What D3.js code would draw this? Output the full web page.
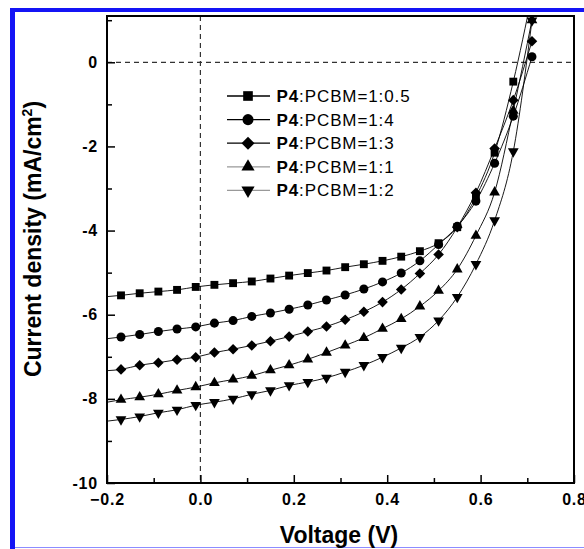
<!DOCTYPE html>
<html>
<head>
<meta charset="utf-8">
<script src="https://cdn.jsdelivr.net/npm/d3@7"></script>
<style>
  body { margin: 0; background: #fff; }
  text { font-family: Arial, "Liberation Sans", sans-serif; }
</style>
</head>
<body>
<svg id="chart" width="584" height="549"></svg>
<script>
// J-V data (V in volts, J in mA/cm2)
var voltage = [-0.17, -0.13, -0.09, -0.05, -0.01, 0.03, 0.07, 0.11, 0.15, 0.19, 0.23, 0.27,
               0.31, 0.35, 0.39, 0.43, 0.47, 0.51, 0.55, 0.59, 0.63, 0.67, 0.71];
var ratios = ["1:0.5", "1:4", "1:3", "1:1", "1:2"];
var jRatio05 = [-5.54, -5.49, -5.45, -5.41, -5.34, -5.29, -5.25, -5.21, -5.14, -5.07, -5.01, -4.95,
                -4.87, -4.80, -4.72, -4.62, -4.49, -4.30, -3.92, -3.20, -2.15, -0.46, 1.60];
var jRatio4 = [-6.53, -6.47, -6.40, -6.34, -6.29, -6.20, -6.14, -6.04, -5.96, -5.87, -5.77, -5.65,
               -5.53, -5.39, -5.22, -5.01, -4.72, -4.33, -3.90, -3.30, -2.40, -1.28, 0.13];
var jRatio3 = [-7.30, -7.20, -7.14, -7.07, -7.01, -6.90, -6.82, -6.73, -6.63, -6.52, -6.40, -6.28,
               -6.12, -5.93, -5.70, -5.40, -5.02, -4.57, -3.92, -3.10, -2.05, -0.90, 0.50];
var jRatio1 = [-8.02, -7.96, -7.89, -7.80, -7.72, -7.62, -7.54, -7.45, -7.32, -7.20, -7.06, -6.90,
               -6.73, -6.55, -6.33, -6.10, -5.80, -5.43, -4.92, -4.12, -3.09, -1.15, 1.00];
var jRatio2 = [-8.49, -8.42, -8.33, -8.26, -8.15, -8.08, -8.00, -7.89, -7.80, -7.68, -7.60, -7.50,
               -7.36, -7.20, -7.01, -6.79, -6.53, -6.14, -5.58, -4.80, -3.76, -2.12, 0.99];
// where each curve meets the left axis (-0.2 V)
var curveStartV = -0.2;
var curveStartJ = [-5.57, -6.57, -7.33, -8.08, -8.53];

var xTicks = [-0.2, 0.0, 0.2, 0.4, 0.6, 0.8];
var xMinor = [-0.1, 0.1, 0.3, 0.5, 0.7];
var yTicks = [0, -2, -4, -6, -8, -10];
var yMinor = [1, -1, -3, -5, -7, -9];

var svg = d3.select("#chart"),
    margin = {top: 16, right: 10, bottom: 66, left: 107},
    width = 574 - margin.left,
    height = 483 - margin.top;

// blue frame of the scanned figure
svg.append("rect").attr("x", 10).attr("y", 8).attr("width", 574).attr("height", 4).attr("fill", "#1414f5");
svg.append("rect").attr("x", 10).attr("y", 8).attr("width", 5).attr("height", 541).attr("fill", "#1414f5");
svg.append("line").attr("x1", 15).attr("x2", 584).attr("y1", 547.5).attr("y2", 547.5)
    .attr("stroke", "#8c8cff").attr("stroke-width", 1);

var x = d3.scaleLinear().domain([-0.2, 0.8]).range([0, width]),
    y = d3.scaleLinear().domain([-10, 1.1]).range([height, 0]);

var g = svg.append("g")
    .attr("transform", "translate(" + margin.left + "," + margin.top + ")");

g.append("clipPath").attr("id", "clip")
  .append("rect").attr("width", width).attr("height", height);

// dashed zero lines
g.append("line")
    .attr("x1", 0).attr("x2", width).attr("y1", y(0)).attr("y2", y(0))
    .attr("stroke", "#333").attr("stroke-width", 1.2).attr("stroke-dasharray", "5,4");
g.append("line")
    .attr("x1", x(0)).attr("x2", x(0)).attr("y1", 0).attr("y2", height)
    .attr("stroke", "#333").attr("stroke-width", 1.2).attr("stroke-dasharray", "5,4");

// axes: ticks point inward
var xAxis = g.append("g").attr("transform", "translate(0," + height + ")")
    .call(d3.axisBottom(x).tickValues(xTicks).tickSize(-8).tickPadding(11)
      .tickFormat(d3.format(".1f")));
var xAxisMinor = g.append("g").attr("transform", "translate(0," + height + ")")
    .call(d3.axisBottom(x).tickValues(xMinor).tickSize(-5).tickFormat(""));
var yAxis = g.append("g")
    .call(d3.axisLeft(y).tickValues(yTicks).tickSize(-8).tickPadding(9)
      .tickFormat(function(d) { return d3.format("d")(d).replace("\u2212", "-"); }));
var yAxisMinor = g.append("g")
    .call(d3.axisLeft(y).tickValues(yMinor).tickSize(-5).tickFormat(""));

[xAxis, xAxisMinor, yAxis, yAxisMinor].forEach(function(a) {
  a.select(".domain").remove();
  a.selectAll(".tick line").attr("stroke", "#000").attr("stroke-width", 1.5);
  a.selectAll(".tick text")
    .attr("fill", "#000")
    .style("font-size", "16px")
    .style("font-weight", "bold")
    .style("letter-spacing", "0.8px");
});

g.append("rect")
    .attr("width", width).attr("height", height)
    .attr("fill", "none").attr("stroke", "#000").attr("stroke-width", 2);

// series
var series = [jRatio05, jRatio4, jRatio3, jRatio1, jRatio2].map(function(vals, i) {
  return {
    ratio: ratios[i],
    points: voltage.map(function(v, k) { return {v: v, j: vals[k]}; }),
    start: {v: curveStartV, j: curveStartJ[i]}
  };
});

// marker shapes: square, circle, diamond, up triangle, down triangle
var markers = [
  {type: d3.symbolSquare, size: 62, rot: 0},
  {type: d3.symbolCircle, size: 64, rot: 0},
  {type: d3.symbolSquare, size: 56, rot: 45},
  {type: d3.symbolTriangle, size: 50, rot: 0},
  {type: d3.symbolTriangle, size: 50, rot: 180}
];

var line = d3.line()
    .x(function(d) { return x(d.v); })
    .y(function(d) { return y(d.j); })
    .curve(d3.curveMonotoneX);

var plot = g.append("g").attr("clip-path", "url(#clip)");

plot.selectAll(".curve")
  .data(series)
  .enter().append("path")
    .attr("class", "curve")
    .attr("fill", "none")
    .attr("stroke", "#000")
    .attr("stroke-width", 0.9)
    .attr("d", function(d) { return line([d.start].concat(d.points)); });

series.forEach(function(s, i) {
  var m = markers[i];
  plot.selectAll(".mk-" + i)
    .data(s.points)
    .enter().append("path")
      .attr("class", "mk-" + i)
      .attr("d", d3.symbol().type(m.type).size(m.size))
      .attr("transform", function(d) {
        return "translate(" + x(d.v) + "," + y(d.j) + ") rotate(" + m.rot + ")";
      })
      .attr("fill", "#000");
});

// legend
var legend = svg.append("g").attr("transform", "translate(227,96)");
var rows = legend.selectAll(".row")
  .data(series)
  .enter().append("g")
    .attr("class", "row")
    .attr("transform", function(d, i) { return "translate(0," + (i * 23.6) + ")"; });

rows.append("line")
    .attr("x1", 0).attr("x2", 43)
    .attr("stroke", function(d, i) { return i < 3 ? "#000" : "#999"; })
    .attr("stroke-width", 1.3);
rows.append("path")
    .attr("d", function(d, i) { return d3.symbol().type(markers[i].type).size(markers[i].size * 1.5)(); })
    .attr("transform", function(d, i) { return "translate(21,0) rotate(" + markers[i].rot + ")"; })
    .attr("fill", "#000");
var lt = rows.append("text")
    .attr("x", 49.5).attr("y", 6)
    .style("font-size", "17px")
    .style("letter-spacing", "0.9px");
lt.append("tspan").style("font-weight", "bold").text("P4");
lt.append("tspan").text(function(d) { return ":PCBM=" + d.ratio; });

// axis titles
svg.append("text")
    .attr("x", 339).attr("y", 543)
    .attr("text-anchor", "middle")
    .style("font-size", "23px").style("font-weight", "bold")
    .text("Voltage (V)");

var yt = svg.append("text")
    .attr("transform", "translate(41,239) rotate(-90)")
    .attr("text-anchor", "middle")
    .style("font-size", "23px").style("font-weight", "bold");
yt.append("tspan").text("Current density (mA/cm");
yt.append("tspan").attr("dy", -9).style("font-size", "14px").text("2");
yt.append("tspan").attr("dy", 9).text(")");
</script>
</body>
</html>
